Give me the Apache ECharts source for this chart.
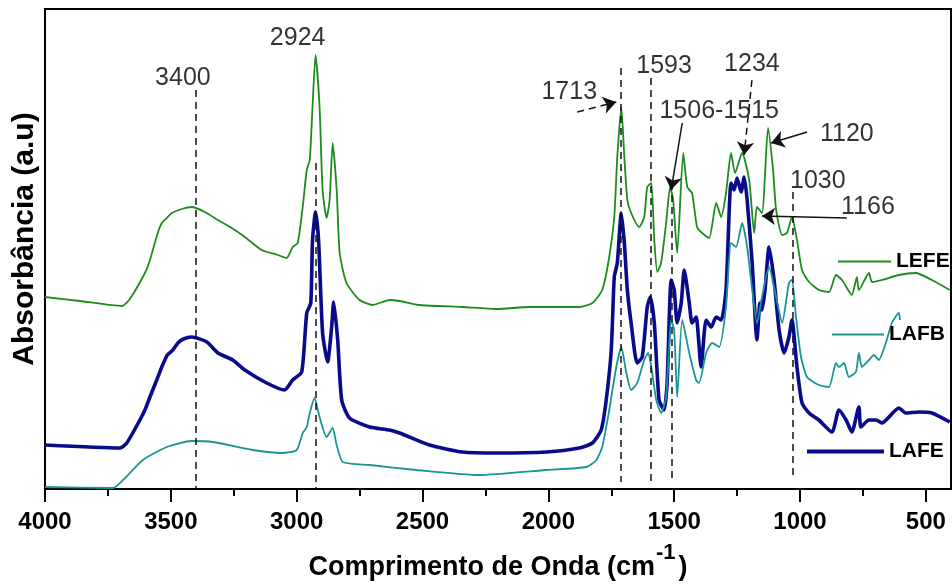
<!DOCTYPE html>
<html>
<head>
<meta charset="utf-8">
<title>FTIR</title>
<script src="https://cdn.jsdelivr.net/npm/echarts@6/dist/echarts.min.js"></script>
<style>
  html, body { margin: 0; padding: 0; background: #fff; }
  #chart { width: 952px; height: 586px; }
</style>
</head>
<body>
<div id="chart"></div>
<script>
// FTIR spectra: wavenumber (cm-1) and absorbance (a.u., stacked offsets)
const lefeWn = [4000,3861,3694,3663,3603,3583,3552,3536,3516,3496,3456,3417,3365,3313,3258,3206,3139,3075,3040,3016,2996,2976,2960,2948,2937,2925,2909,2897,2881,2869,2857,2841,2829,2802,2750,2698,2631,2591,2512,2341,2206,2075,1877,1825,1786,1758,1738,1726,1710,1698,1686,1671,1639,1619,1607,1591,1579,1567,1552,1532,1516,1504,1488,1464,1448,1429,1409,1389,1361,1333,1313,1294,1274,1258,1230,1202,1182,1171,1151,1127,1107,1095,1071,1052,1032,1012,992,964,925,885,857,833,794,774,766,726,714,675,607,540,476,405];
const lefeAbs = [48.0,47.0,45.75,47.5,54.0,57.25,64.0,66.5,67.75,69.0,70.0,70.5,69.25,67.25,65.25,63.0,59.75,58.5,57.75,60.5,61.5,70.5,79.75,82.25,95.5,108.5,95.5,74.75,67.75,72.25,86.5,74.75,59.0,51.5,47.25,46.0,47.25,47.0,46.0,45.5,45.0,45.5,45.5,46.5,49.75,58.0,68.0,83.0,95.5,83.0,72.25,69.0,65.5,68.0,75.5,76.5,62.25,54.25,56.5,66.5,75.5,72.25,59.0,84.0,75.5,74.0,65.5,64.0,62.75,71.5,68.0,74.0,84.0,79.0,84.0,77.25,64.0,70.5,69.0,90.25,79.75,69.75,63.5,64.0,68.0,62.25,54.75,51.75,49.75,49.25,53.5,52.25,48.5,53.0,49.75,54.0,51.75,52.25,53.5,54.0,52.25,49.75];

const lafeWn = [4000,3702,3675,3623,3603,3583,3556,3536,3514,3492,3472,3450,3417,3357,3313,3254,3206,3119,3048,3016,2980,2960,2944,2937,2925,2913,2897,2877,2861,2853,2837,2821,2790,2710,2631,2591,2472,2341,2206,2008,1877,1825,1790,1770,1750,1738,1726,1710,1698,1686,1671,1647,1627,1607,1595,1579,1560,1540,1528,1512,1500,1488,1472,1460,1440,1429,1413,1393,1373,1353,1333,1313,1294,1274,1262,1250,1234,1222,1210,1190,1171,1159,1151,1139,1123,1103,1083,1063,1044,1032,1012,992,964,925,873,845,817,794,766,758,726,698,675,607,579,528,476,405];
const lafeAbs = [11.0,10.25,11.5,17.25,19.75,23.0,27.25,30.5,33.5,34.75,36.5,37.5,38.0,36.75,34.0,32.25,29.75,26.5,24.75,27.25,29.25,44.0,46.5,62.25,69.25,62.25,39.0,31.75,40.5,46.75,37.25,22.25,17.75,15.5,14.75,14.0,11.0,9.25,9.0,9.25,10.25,11.5,14.75,22.25,34.75,53.0,56.5,69.0,61.5,49.75,41.5,31.5,33.0,45.5,48.0,41.5,22.25,19.75,26.5,52.25,49.75,41.5,46.5,54.75,46.5,41.5,43.0,30.5,42.25,40.5,43.0,42.25,49.75,76.5,74.75,77.75,74.25,78.0,72.25,56.5,37.25,46.5,44.75,49.75,60.5,52.25,39.75,34.0,38.0,42.25,30.5,21.5,19.0,17.25,14.25,19.75,17.25,14.25,20.5,15.5,17.25,17.25,16.5,20.25,19.0,19.25,19.0,16.75];

const lafbWn = [4000,3730,3690,3611,3516,3417,3333,3175,3056,3000,2976,2960,2948,2929,2909,2881,2857,2841,2817,2710,2524,2274,2008,1849,1809,1786,1758,1730,1710,1690,1671,1647,1619,1603,1591,1571,1552,1532,1512,1500,1488,1468,1440,1413,1401,1373,1349,1321,1294,1274,1254,1230,1210,1190,1171,1151,1123,1095,1071,1044,1032,1016,996,972,925,885,857,845,825,806,778,766,754,726,706,687,659,635,607,603];
const lafbAbs = [0.5,0.25,2.25,7.25,10.5,12.0,11.75,9.75,9.0,9.75,14.0,15.5,19.0,22.75,18.0,13.0,15.25,11.0,6.75,6.0,4.75,3.5,4.75,5.5,7.25,10.5,19.75,30.5,35.5,29.0,24.75,26.5,32.25,34.0,30.5,22.25,19.0,23.0,42.25,39.75,23.0,42.25,34.0,27.25,26.5,34.0,36.5,35.5,45.5,61.5,60.5,66.5,60.5,49.75,41.5,48.0,55.5,48.0,41.5,51.5,52.25,43.0,33.0,28.0,26.0,25.5,31.5,30.5,31.5,28.0,29.25,34.0,30.5,32.25,33.5,32.25,36.5,41.5,44.0,42.25];

// Axis ticks
const xTicks = [500,1000,1500,2000,2500,3000,3500,4000];
const xMinorTicks = [750,1250,1750,2250,2750,3250,3750];

// Band assignments (cm-1) marked with dashed guides
const bandLines = [3400, 2924, 1713, 1593, 1510, 1030];
const noteTexts = ['3400','2924','1713','1593','1234','1506-1515','1120','1030','1166'];

const FONT = '"Liberation Sans", Arial, Helvetica, sans-serif';

function pairs(xs, ys) { return xs.map((x, i) => [x, ys[i]]); }

// guide extents in absorbance units: [top, bottom]
const guideSpan = { 3400: [99.75, 0], 2924: [81.5, 0], 1713: [105.25, 1.75], 1593: [102.75, 1.75], 1510: [76.5, 1.75], 1030: [74.25, 2.75] };
const dashed = { type: [7, 5], width: 1.5, color: '#111' };

const guides = bandLines.map(b => [
  { coord: [b, guideSpan[b][0]], symbol: 'none', lineStyle: dashed },
  { coord: [b, guideSpan[b][1]], symbol: 'none' }
]);

// pointer arrows from labels to peaks
function arrow(x0, y0, x1, y1, style) {
  return [
    { coord: [x0, y0], symbol: 'none', lineStyle: style },
    { coord: [x1, y1], symbol: 'arrow', symbolSize: 13 }
  ];
}
const solid = { type: 'solid', width: 1.5, color: '#111' };
const arrows = [
  arrow(1885, 94.25, 1730, 96.75, dashed),
  arrow(1191, 102.25, 1222, 83.5, dashed),
  arrow(1468, 91.5, 1512, 74.75, solid),
  arrow(972, 89.25, 1115, 86.5, solid),
  arrow(814, 67.75, 1151, 68.25, solid)
];

// label placement (wavenumber, absorbance) for each note text
const notePlace = [[3452,102.75],[2996,112.75],[1917,99.25],[1540,105.75],[1191,106.25],[1321,94.5],[814,88.75],[929,77],[730,70.5]];

const chart = echarts.init(document.getElementById('chart'), null, { renderer: 'canvas' });

const ctx = document.createElement('canvas').getContext('2d');
const titleFont = 'bold 27px ' + FONT;
const supFont = 'bold 22px ' + FONT;
ctx.font = titleFont;
const mainW = ctx.measureText('Comprimento de Onda (cm').width;
const parenW = ctx.measureText(')').width;
ctx.font = supFont;
const supW = ctx.measureText('-1').width;
const totalW = mainW + 1 + supW + 3 + parenW;
const titleLeft = 498 - totalW / 2;

const legendBase = {
  icon: 'rect', padding: 0, itemGap: 0, orient: 'horizontal',
  textStyle: { fontSize: 21, fontWeight: 'bold', color: '#000', fontFamily: FONT }
};

const option = {
  animation: false,
  backgroundColor: '#fff',
  grid: { left: 45, top: 9, right: 1, bottom: 97, show: true, borderColor: '#000', borderWidth: 2, containLabel: false },
  xAxis: [
    {
      type: 'value', inverse: true, min: 400, max: 4000,
      axisLine: { show: true, onZero: false, lineStyle: { color: '#000', width: 2 } },
      axisTick: { show: true, customValues: xTicks, length: 13, lineStyle: { color: '#000', width: 2 } },
      axisLabel: {
        customValues: xTicks, fontSize: 24, fontWeight: 'bold', color: '#000', fontFamily: FONT, margin: 21,
        formatter: v => String(v)
      },
      splitLine: { show: false }
    },
    {
      type: 'value', inverse: true, min: 400, max: 4000, position: 'bottom',
      axisLine: { show: false, onZero: false },
      axisTick: { show: true, customValues: xMinorTicks, length: 7, lineStyle: { color: '#000', width: 2 } },
      axisLabel: { show: false },
      splitLine: { show: false }
    }
  ],
  yAxis: {
    type: 'value', min: 0, max: 120,
    axisLine: { show: true, lineStyle: { color: '#000', width: 2 } },
    axisTick: { show: false }, axisLabel: { show: false }, splitLine: { show: false }
  },
  legend: [
    Object.assign({}, legendBase, { data: ['LEFE'], left: 838, top: 251, itemWidth: 53, itemHeight: 2 }),
    Object.assign({}, legendBase, { data: ['LAFB'], left: 832, top: 324, itemWidth: 52, itemHeight: 2 }),
    Object.assign({}, legendBase, { data: ['LAFE'], left: 807, top: 441, itemWidth: 77, itemHeight: 4 })
  ],
  series: [
    {
      name: 'LAFE', type: 'line', data: pairs(lafeWn, lafeAbs), symbol: 'none', smooth: 0.2,
      lineStyle: { color: '#0a0a8c', width: 3.6 }, itemStyle: { color: '#0a0a8c' }, z: 2
    },
    {
      name: 'LAFB', type: 'line', data: pairs(lafbWn, lafbAbs), symbol: 'none', smooth: 0.2,
      lineStyle: { color: '#1a9494', width: 1.8 }, itemStyle: { color: '#1a9494' }, z: 3
    },
    {
      name: 'LEFE', type: 'line', data: pairs(lefeWn, lefeAbs), symbol: 'none', smooth: 0.2,
      lineStyle: { color: '#1c8c1c', width: 1.8 }, itemStyle: { color: '#1c8c1c' }, z: 4
    },
    {
      name: 'bandas', type: 'scatter', silent: true, z: 5,
      symbolSize: 1, itemStyle: { color: 'rgba(0,0,0,0)' },
      data: noteTexts.map((t, i) => ({ name: t, value: notePlace[i] })),
      label: {
        show: true, position: 'inside', formatter: '{b}', align: 'center', verticalAlign: 'middle',
        fontSize: 25, color: '#000', fontFamily: FONT
      },
      markLine: {
        silent: true, animation: false, symbol: ['none', 'none'],
        label: { show: false },
        data: guides.concat(arrows)
      }
    }
  ],
  graphic: [
    {
      type: 'text', x: titleLeft, y: 568,
      style: { text: 'Comprimento de Onda (cm', font: titleFont, fill: '#000', align: 'left', verticalAlign: 'middle' }
    },
    {
      type: 'text', x: titleLeft + mainW + 1, y: 553,
      style: { text: '-1', font: supFont, fill: '#000', align: 'left', verticalAlign: 'middle' }
    },
    {
      type: 'text', x: titleLeft + mainW + 1 + supW + 3, y: 568,
      style: { text: ')', font: titleFont, fill: '#000', align: 'left', verticalAlign: 'middle' }
    },
    {
      type: 'text', x: 25, y: 239, rotation: Math.PI / 2,
      style: { text: 'Absorbância (a.u)', font: 'bold 30px ' + FONT, fill: '#000', align: 'center', verticalAlign: 'middle' }
    }
  ]
};

chart.setOption(option);
</script>
</body>
</html>
